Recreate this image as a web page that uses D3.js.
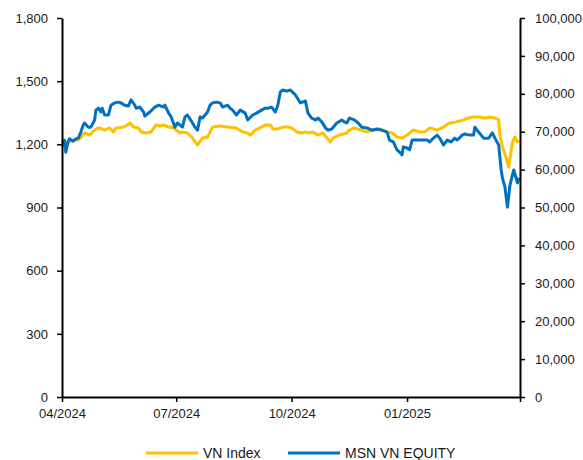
<!DOCTYPE html>
<html>
<head>
<meta charset="utf-8">
<script src="https://cdn.jsdelivr.net/npm/d3@7"></script>
<style>
  html, body { margin: 0; padding: 0; background: #fff; }
  svg { display: block; font-family: "Liberation Sans", Arial, sans-serif; }
</style>
</head>
<body>
<svg id="chart" width="583" height="460"></svg>
<script>
// VN Index (left axis)
const vnDates = ["2024-04-01","2024-04-03","2024-04-06","2024-04-08","2024-04-11","2024-04-14","2024-04-17","2024-04-19","2024-04-23","2024-04-27","2024-04-30","2024-05-03","2024-05-05","2024-05-09","2024-05-12","2024-05-14","2024-05-17","2024-05-20","2024-05-23","2024-05-25","2024-05-28","2024-06-01","2024-06-03","2024-06-07","2024-06-11","2024-06-15","2024-06-18","2024-06-21","2024-06-25","2024-06-29","2024-07-02","2024-07-04","2024-07-06","2024-07-10","2024-07-14","2024-07-18","2024-07-22","2024-07-26","2024-07-30","2024-08-05","2024-08-11","2024-08-18","2024-08-23","2024-08-27","2024-08-29","2024-09-02","2024-09-06","2024-09-10","2024-09-14","2024-09-16","2024-09-20","2024-09-24","2024-09-28","2024-10-01","2024-10-05","2024-10-09","2024-10-12","2024-10-14","2024-10-18","2024-10-22","2024-10-26","2024-10-29","2024-11-01","2024-11-03","2024-11-08","2024-11-14","2024-11-16","2024-11-20","2024-11-25","2024-11-30","2024-12-05","2024-12-10","2024-12-16","2024-12-20","2024-12-24","2024-12-28","2025-01-01","2025-01-06","2025-01-11","2025-01-15","2025-01-19","2025-01-25","2025-01-30","2025-02-04","2025-02-09","2025-02-15","2025-02-19","2025-02-23","2025-02-28","2025-03-04","2025-03-08","2025-03-12","2025-03-15","2025-03-16","2025-03-18","2025-03-21","2025-03-23","2025-03-26","2025-03-28","2025-03-30","2025-03-31"];
const vnValues = [1187,1197,1211,1216,1221,1221,1240,1254,1244,1268,1278,1273,1268,1278,1259,1278,1278,1282,1292,1301,1282,1278,1259,1254,1259,1292,1287,1292,1282,1278,1263,1254,1259,1254,1230,1197,1230,1235,1282,1287,1282,1278,1259,1254,1244,1268,1278,1292,1292,1273,1273,1282,1282,1278,1259,1254,1259,1254,1259,1244,1254,1230,1211,1230,1244,1254,1268,1278,1268,1259,1268,1273,1259,1254,1235,1230,1244,1268,1259,1259,1278,1268,1282,1301,1306,1316,1325,1330,1330,1325,1330,1325,1316,1244,1187,1135,1092,1211,1235,1211,1221];

// MSN VN EQUITY (right axis)
const msnDates = ["2024-04-01","2024-04-03","2024-04-04","2024-04-06","2024-04-07","2024-04-10","2024-04-12","2024-04-14","2024-04-16","2024-04-18","2024-04-19","2024-04-22","2024-04-24","2024-04-27","2024-04-28","2024-04-30","2024-05-02","2024-05-03","2024-05-05","2024-05-08","2024-05-10","2024-05-13","2024-05-16","2024-05-18","2024-05-21","2024-05-24","2024-05-26","2024-05-29","2024-05-30","2024-06-02","2024-06-05","2024-06-06","2024-06-10","2024-06-14","2024-06-17","2024-06-21","2024-06-22","2024-06-25","2024-06-27","2024-06-30","2024-07-02","2024-07-06","2024-07-08","2024-07-10","2024-07-14","2024-07-16","2024-07-18","2024-07-20","2024-07-22","2024-07-26","2024-07-28","2024-07-30","2024-08-02","2024-08-05","2024-08-07","2024-08-11","2024-08-13","2024-08-15","2024-08-18","2024-08-21","2024-08-25","2024-08-27","2024-08-31","2024-09-03","2024-09-07","2024-09-10","2024-09-12","2024-09-15","2024-09-18","2024-09-20","2024-09-22","2024-09-24","2024-09-27","2024-09-30","2024-10-04","2024-10-08","2024-10-12","2024-10-14","2024-10-17","2024-10-20","2024-10-22","2024-10-25","2024-10-28","2024-10-30","2024-11-02","2024-11-06","2024-11-10","2024-11-12","2024-11-14","2024-11-16","2024-11-20","2024-11-23","2024-11-26","2024-11-30","2024-12-04","2024-12-08","2024-12-12","2024-12-16","2024-12-18","2024-12-21","2024-12-24","2024-12-26","2024-12-28","2024-12-29","2025-01-01","2025-01-03","2025-01-05","2025-01-11","2025-01-17","2025-01-19","2025-01-22","2025-01-25","2025-01-27","2025-01-30","2025-02-02","2025-02-05","2025-02-08","2025-02-10","2025-02-14","2025-02-16","2025-02-20","2025-02-23","2025-02-24","2025-02-27","2025-03-03","2025-03-07","2025-03-10","2025-03-12","2025-03-15","2025-03-17","2025-03-18","2025-03-20","2025-03-22","2025-03-24","2025-03-27","2025-03-30","2025-03-31"];
const msnValues = [67000,67800,64600,67500,68100,67500,68100,68300,69900,71800,72300,71200,71200,73100,75700,76200,75200,76200,74400,74400,77000,77600,77800,77600,77000,76800,78400,77000,76200,76500,75200,74100,75200,76500,77000,76500,77000,74900,73900,71200,72300,71200,73900,74400,72300,71200,70400,73900,73600,75200,77000,77600,77800,77600,76500,77000,76200,75700,74400,75700,74900,73100,74400,74900,75700,76200,76200,76500,75200,77000,80500,81000,80700,81000,79700,77600,78100,74900,73600,73100,73600,72600,71000,70400,70700,72300,73100,72600,72300,73600,73100,72300,71200,71000,70400,70700,70400,69900,67800,67300,65200,64600,63900,66000,65700,65200,67800,67800,67800,67300,68300,69100,68300,66500,67800,67300,68300,67800,69100,69400,69100,69100,71200,69900,68300,68300,69700,68300,66500,59900,57800,55400,50100,55900,59900,56500,57800];

const leftTicks = [0, 300, 600, 900, 1200, 1500, 1800];
const rightTicks = [0, 10000, 20000, 30000, 40000, 50000, 60000, 70000, 80000, 90000, 100000];
const monthTicks = ["2024-04-01", "2024-07-01", "2024-10-01", "2025-01-01", "2025-04-01"];
const labelledMonths = ["2024-04-01", "2024-07-01", "2024-10-01", "2025-01-01"];

const seriesNames = ["VN Index", "MSN VN EQUITY"];
const seriesColors = ["#FFC000", "#0070C0"];

const parse = d3.timeParse("%Y-%m-%d");
const fmtMonth = d3.timeFormat("%m/%Y");
const fmtNum = d3.format(",");

const svg = d3.select("#chart");
const m = { left: 62, right: 520, top: 18, bottom: 397 };

const x = d3.scaleTime()
  .domain([parse("2024-04-01"), parse("2025-04-01")])
  .range([m.left, m.right]);
const yL = d3.scaleLinear().domain([0, 1800]).range([m.bottom, m.top]);
const yR = d3.scaleLinear().domain([0, 100000]).range([m.bottom, m.top]);

const vn = vnDates.map((d, i) => ({ date: parse(d), v: vnValues[i] }));
const msn = msnDates.map((d, i) => ({ date: parse(d), v: msnValues[i] }));

// series lines
svg.append("path")
  .datum(vn)
  .attr("fill", "none")
  .attr("stroke", seriesColors[0])
  .attr("stroke-width", 3)
  .attr("stroke-linejoin", "round")
  .attr("d", d3.line().x(d => x(d.date)).y(d => yL(d.v)));

svg.append("path")
  .datum(msn)
  .attr("fill", "none")
  .attr("stroke", seriesColors[1])
  .attr("stroke-width", 3)
  .attr("stroke-linejoin", "round")
  .attr("d", d3.line().x(d => x(d.date)).y(d => yR(d.v)));

// axes
const styleAxis = g => {
  g.select(".domain").attr("stroke", "#000").attr("stroke-width", 2);
  g.selectAll(".tick line").attr("stroke", "#000").attr("stroke-width", 1.5);
  g.selectAll(".tick text").attr("fill", "#1a1a1a").style("font-size", "13px")
    .style("font-family", "'Liberation Sans', Arial, sans-serif");
};

svg.append("g")
  .attr("transform", `translate(${m.left},0)`)
  .call(d3.axisLeft(yL).tickValues(leftTicks).tickFormat(fmtNum)
    .tickSize(5).tickSizeOuter(0).tickPadding(9))
  .call(styleAxis);

svg.append("g")
  .attr("transform", `translate(${m.right},0)`)
  .call(d3.axisRight(yR).tickValues(rightTicks).tickFormat(fmtNum)
    .tickSize(5).tickSizeOuter(0).tickPadding(10))
  .call(styleAxis);

svg.append("g")
  .attr("transform", `translate(0,${m.bottom})`)
  .call(d3.axisBottom(x).tickValues(monthTicks.map(parse))
    .tickFormat(d => labelledMonths.includes(d3.timeFormat("%Y-%m-%d")(d)) ? fmtMonth(d) : "")
    .tickSize(5).tickSizeOuter(0).tickPadding(7))
  .call(styleAxis);

// legend
const legend = svg.append("g").attr("transform", "translate(0,453)");
const legendItems = [{ x0: 146, x1: 198 }, { x0: 288, x1: 340 }];
seriesNames.forEach((name, i) => {
  legend.append("line")
    .attr("x1", legendItems[i].x0).attr("x2", legendItems[i].x1)
    .attr("y1", 0).attr("y2", 0)
    .attr("stroke", seriesColors[i]).attr("stroke-width", 3);
  legend.append("text")
    .attr("x", legendItems[i].x1 + 5).attr("y", 0)
    .attr("dy", "0.35em")
    .attr("fill", "#1a1a1a")
    .style("font-size", "14px")
    .text(name);
});
</script>
</body>
</html>
